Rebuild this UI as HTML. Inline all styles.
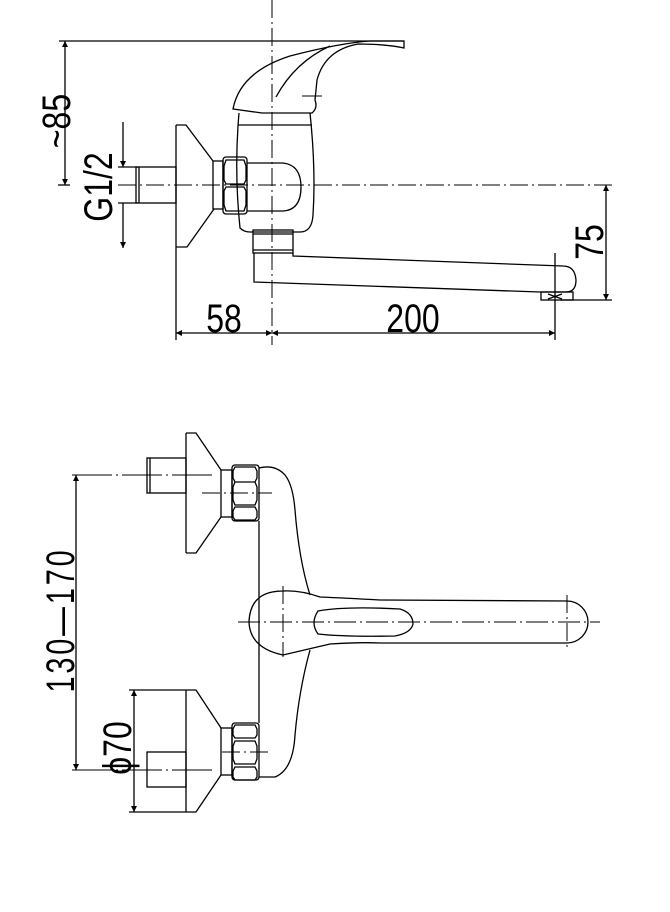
<!DOCTYPE html>
<html><head><meta charset="utf-8"><style>
html,body{margin:0;padding:0;background:#fff}
svg{display:block}
text{font-family:"Liberation Sans",sans-serif;fill:#000;font-size:40px;font-weight:normal}
</style></head><body>
<svg width="670" height="912" viewBox="0 0 670 912" xmlns="http://www.w3.org/2000/svg">
<defs>
<marker id="a" viewBox="0 0 10 10" refX="10" refY="5" markerWidth="6" markerHeight="16" markerUnits="userSpaceOnUse" orient="auto-start-reverse"><path d="M0,0L10,5L0,10z" fill="#000"/></marker>
</defs>
<g fill="none" stroke="#000" stroke-width="1.3">
<line x1="272" y1="0" x2="272" y2="345" stroke-dasharray="18,4,2,4" stroke-width="1"/>
<line x1="118" y1="185" x2="612" y2="185" stroke-dasharray="18,4,2,4" stroke-width="1"/>
<line x1="59" y1="41" x2="404" y2="41"/>
<line x1="65" y1="41" x2="65" y2="185" marker-start="url(#a)" marker-end="url(#a)"/>
<line x1="58" y1="185" x2="70" y2="185"/>
<line x1="123" y1="122" x2="123" y2="167" marker-end="url(#a)"/>
<line x1="123" y1="203" x2="123" y2="248" marker-end="url(#a)"/>
<line x1="118" y1="167" x2="138" y2="167"/>
<line x1="118" y1="203" x2="138" y2="203"/>
<rect x="136" y="167" width="40" height="36"/>
<line x1="139" y1="167" x2="139" y2="203"/>
<path d="M176,125 V247 M176,125 H186 L213,161 M176,247 H187 L214,209"/>
<rect x="213" y="161" width="10" height="48"/>
<rect x="223" y="157" width="24" height="57" rx="3"/>
<path d="M226,160 h18 l2,6 v14 l-2,4 h-18 l-2,-4 v-14z M226,187 h18 l2,4 v14 l-2,6 h-18 l-2,-6 v-14z"/>
<path d="M239,113 Q234,170 240,228 Q244,232 250,232 L300,232 Q312,232 313,215 Q316,170 310,113"/>
<line x1="238" y1="125" x2="312" y2="125"/>
<path d="M247,163 L283,163 Q301,165 301,187 Q301,210 283,211 L247,211"/>
<path d="M233,109 Q240,72 290,56 Q340,43 370,41 L404,41 L404,48 Q385,44 358,44 Q325,50 317,80 L315,100 Q318,108 312,113 L262,113 Z"/>
<path d="M276,97 Q295,62 330,46"/>
<line x1="302" y1="96" x2="322" y2="96" stroke-width="1"/>
<rect x="253" y="230" width="40" height="23"/>
<line x1="253" y1="234" x2="293" y2="234"/>
<line x1="253" y1="250" x2="293" y2="250"/>
<path d="M254,253 V282 L540,292 H566 Q576,292 576,280 Q575,266 563,266 L293,256 V253"/>
<rect x="541" y="292" width="32" height="8"/>
<path d="M548,294 L562,299 M548,299 L562,294"/>
<line x1="606" y1="185" x2="606" y2="300" marker-start="url(#a)" marker-end="url(#a)"/>
<line x1="560" y1="300" x2="612" y2="300"/>
<line x1="176" y1="247" x2="176" y2="340"/>
<line x1="555" y1="253" x2="555" y2="340"/>
<line x1="176" y1="333" x2="272" y2="333" marker-start="url(#a)" marker-end="url(#a)"/>
<line x1="272" y1="333" x2="555" y2="333" marker-start="url(#a)" marker-end="url(#a)"/>

<line x1="72" y1="475" x2="215" y2="475" stroke-dasharray="40,4,2,4" stroke-width="1"/>
<line x1="72" y1="770" x2="215" y2="770" stroke-dasharray="40,4,2,4" stroke-width="1"/>
<line x1="76" y1="475" x2="76" y2="770" marker-start="url(#a)" marker-end="url(#a)"/>
<line x1="202" y1="493" x2="272" y2="493" stroke-dasharray="18,4,2,4" stroke-width="1"/>
<line x1="222" y1="752" x2="272" y2="752" stroke-dasharray="18,4,2,4" stroke-width="1"/>
<path d="M186,433 V553 M186,433 H196 L221,470 M186,553 H196 L221,517"/>
<rect x="147" y="458" width="39" height="35"/>
<line x1="150" y1="458" x2="150" y2="493"/>
<rect x="221" y="470" width="11" height="47"/>
<rect x="232" y="465" width="27" height="56" rx="3"/>
<path d="M235,467 h20 l2,4 v7 l-2,4 h-20 l-2,-4 v-7z M235,482 h20 l2,5 v13 l-2,5 h-20 l-2,-5 v-13z M235,507 h20 l2,4 v6 l-2,3 h-20 l-2,-3 v-6z"/>
<path d="M186,690 V812 M186,690 H196 L221,728 M186,812 H196 L221,775"/>
<rect x="147" y="752" width="39" height="35"/>
<rect x="221" y="728" width="11" height="47"/>
<rect x="232" y="723" width="27" height="57" rx="3"/>
<path d="M235,725 h20 l2,4 v6 l-2,3 h-20 l-2,-3 v-6z M235,741 h20 l2,5 v13 l-2,5 h-20 l-2,-5 v-13z M235,767 h20 l2,4 v6 l-2,3 h-20 l-2,-3 v-6z"/>
<line x1="129" y1="690" x2="186" y2="690"/>
<line x1="129" y1="812" x2="186" y2="812"/>
<line x1="134" y1="690" x2="134" y2="812" marker-start="url(#a)" marker-end="url(#a)"/>
<path d="M259,468 Q275,464 285,475 Q293,485 295,510 Q299,560 310,595"/>
<path d="M310,650 Q299,690 295,735 Q293,770 275,777 L259,777"/>
<line x1="259" y1="521" x2="259" y2="723"/>
<path d="M283,591 Q250,591 249,622 Q250,648 283,655 L330,644 Q360,642 380,643 L567,643 A21,21 0 0 0 567,601 L380,600 Q345,598 320,597 Q300,590 283,591 Z"/>
<path d="M318,611 Q345,606 400,609 Q413,613 413,624 Q411,633 395,636 Q345,637 318,634 Q310,623 318,611 Z"/>
<line x1="238" y1="622" x2="600" y2="622" stroke-dasharray="22,4,2,4" stroke-width="1"/>
<line x1="283" y1="586" x2="283" y2="657" stroke-dasharray="18,4,2,4" stroke-width="1"/>
<line x1="567" y1="595" x2="567" y2="650" stroke-dasharray="18,4,2,4" stroke-width="1"/>
</g>
<text transform="translate(70,121) rotate(-90) scale(0.8,1)" text-anchor="middle">~85</text>
<text transform="translate(112,187) rotate(-90) scale(0.8,1)" text-anchor="middle">G1/2</text>
<text transform="translate(603,242) rotate(-90) scale(0.8,1)" text-anchor="middle">75</text>
<text transform="translate(224,332) scale(0.8,1)" text-anchor="middle">58</text>
<text transform="translate(413,332) scale(0.8,1)" text-anchor="middle">200</text>
<text transform="translate(74,620) rotate(-90) scale(0.72,1)" text-anchor="middle" letter-spacing="4">130—170</text>
<text transform="translate(131,748) rotate(-90) scale(0.8,1)" text-anchor="middle">ϕ70</text>
</svg>
</body></html>
